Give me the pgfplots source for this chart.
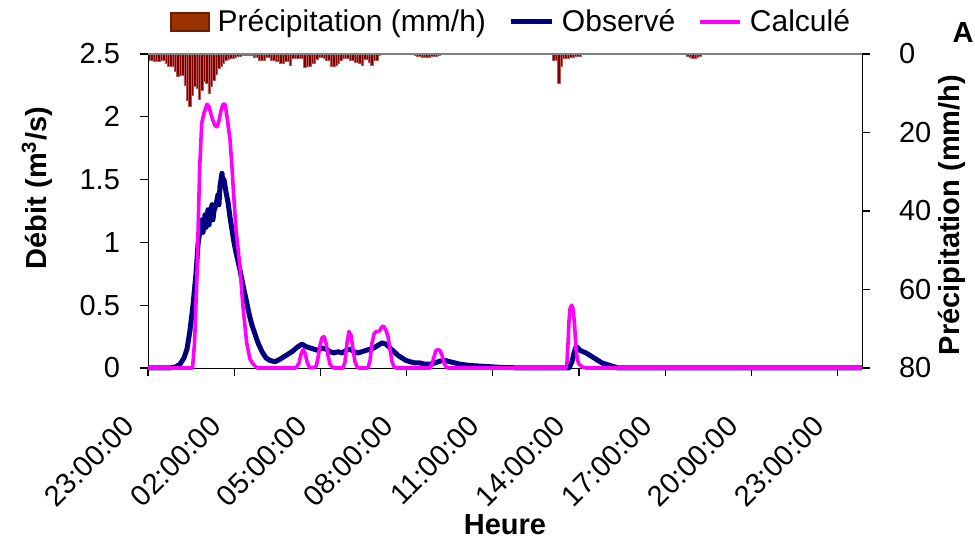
\documentclass[border=0pt]{standalone}
\usepackage{pgfplots}
\pgfplotsset{compat=1.18}
\usepackage{fontspec}
\setmainfont{Liberation Sans}
\definecolor{precip}{RGB}{128,0,0}
\definecolor{precipedge}{RGB}{185,90,90}
\definecolor{precipleg}{RGB}{153,51,0}
\definecolor{precipleged}{RGB}{110,30,0}
\definecolor{obs}{RGB}{0,0,128}
\definecolor{calc}{RGB}{255,0,255}
\begin{document}
\begin{tikzpicture}
\pgfplotsset{every axis/.append style={
  font=\fontsize{14.5}{17}\selectfont,
  scale only axis, width=357pt, height=157pt,
  xmin=0, xmax=24.85,
  /pgf/number format/assume math mode=true,
  axis line style={-, black},
  tick align=outside, major tick length=4pt, tick style={black, line width=0.6pt},
  clip=false}}
% precipitation axis (right, reversed)
\begin{axis}[
  axis x line=none,
  axis y line*=right,
  y dir=reverse,
  ymin=0, ymax=80,
  ytick={0,20,40,60,80},
  yticklabel style={xshift=11pt},
  ylabel={\bfseries Précipitation (mm/h)},
  ylabel style={at={(rel axis cs:1.126,0.487)}, anchor=center},
]
\addplot[ybar, bar width=0.0833, fill=precip, draw=precipedge, line width=0.25pt] coordinates {
(0.042,1.5)(0.125,1.5)(0.208,1.9)(0.292,1.9)(0.375,1.9)(0.458,1.5)(0.542,1.6)(0.625,2.4)(0.708,3.0)(0.792,3.2)
(0.875,3.2)(0.958,4.5)(1.042,5.6)(1.125,5.3)(1.208,5.5)(1.292,7.9)(1.375,11.7)(1.458,13.2)(1.542,10.4)(1.625,8.3)
(1.708,8.7)(1.792,11.5)(1.875,9.2)(1.958,7.0)(2.042,7.5)(2.125,10.0)(2.208,8.3)(2.292,6.6)(2.375,5.1)(2.458,3.6)
(2.542,3.0)(2.625,2.4)(2.708,1.7)(2.792,1.4)(2.875,1.1)(2.958,1.1)(3.042,0.8)(3.125,0.5)(3.208,0.5)(3.292,0.4)
(3.375,0.3)(3.458,0.3)(3.542,0.3)(3.625,0.3)(3.708,0.85)(3.792,0.85)(3.875,1.5)(3.958,1.5)(4.042,1.5)(4.125,0.85)
(4.208,0.85)(4.292,1.5)(4.375,1.5)(4.458,1.8)(4.542,1.8)(4.625,2.4)(4.708,2.4)(4.792,1.8)(4.875,1.8)(4.958,2.8)
(5.042,1.1)(5.125,1.1)(5.208,1.1)(5.292,1.1)(5.375,1.1)(5.458,3.4)(5.542,3.2)(5.625,3.0)(5.708,2.4)(5.792,2.4)
(5.875,1.35)(5.958,0.85)(6.042,0.85)(6.125,1.0)(6.208,1.5)(6.292,1.5)(6.375,3.1)(6.458,3.1)(6.542,2.8)(6.625,2.4)
(6.708,1.6)(6.792,1.1)(6.875,1.1)(6.958,1.1)(7.042,1.5)(7.125,1.5)(7.208,2.2)(7.292,2.2)(7.375,2.4)(7.458,2.8)
(7.542,1.35)(7.625,1.35)(7.708,2.0)(7.792,2.8)(7.875,1.5)(7.958,1.5)(8.042,0.3)
(9.292,0.4)(9.375,0.6)(9.458,0.6)(9.542,0.7)(9.625,0.85)(9.708,0.85)(9.792,0.7)(9.875,0.6)(9.958,0.6)(10.042,0.5)(10.125,0.4)
(14.125,1.5)(14.208,1.5)(14.292,7.4)(14.375,3.0)(14.458,1.1)(14.542,1.1)(14.625,1.1)(14.708,0.85)(14.792,0.85)(14.875,0.6)(14.958,0.6)(15.042,0.6)
(18.792,0.5)(18.875,0.8)(18.958,1.1)(19.042,1.1)(19.125,0.8)(19.208,0.5)
};
\end{axis}
% discharge axis (left)
\begin{axis}[
  axis x line*=bottom,
  axis y line*=left,
  ymin=0, ymax=2.5,
  ytick={0,0.5,1,1.5,2,2.5},
  yticklabels={0,0.5,1,1.5,2,2.5},
  yticklabel style={xshift=-6.5pt},
  xtick={0,3,6,9,12,15,18,21,24},
  xticklabels={23:00:00,02:00:00,05:00:00,08:00:00,11:00:00,14:00:00,17:00:00,20:00:00,23:00:00},
  xticklabel style={xshift=-13pt, yshift=-14pt, rotate=45, anchor=north east},
  xlabel={\bfseries Heure},
  xlabel style={at={(rel axis cs:0.5,-0.5)}, anchor=center},
  ylabel={\bfseries Débit (m\textsuperscript{3}/s)},
  ylabel style={at={(rel axis cs:-0.1555,0.573)}, anchor=center},
  legend style={at={(rel axis cs:0.0308,1.102)}, anchor=west, draw=none, fill=none,
    inner xsep=0pt, legend columns=3, font=\fontsize{15}{18}\selectfont,
    /tikz/every odd column/.append style={column sep=2pt},
    /tikz/every even column/.append style={column sep=9.5pt}},
  legend image code/.code={\draw[#1] (0pt,0pt) -- (20pt,0pt);},
]
\addlegendimage{legend image code/.code={\draw[fill=precipleg, draw=precipleged, line width=0.6pt] (0pt,-4.5pt) rectangle (19pt,4.5pt);}}
\addlegendentry{Précipitation (mm/h)}
\addplot[obs, line width=2.5pt, line join=round] coordinates {
(0,0)(0.766,0)(0.975,0.01)(1.114,0.03)(1.253,0.08)(1.357,0.15)(1.462,0.3)(1.566,0.5)(1.671,0.75)(1.740,0.98)
(1.810,1.1)(1.880,1.18)(1.915,1.08)(1.949,1.14)(1.985,1.22)(2.019,1.12)(2.088,1.26)(2.125,1.14)(2.158,1.22)(2.228,1.3)(2.26,1.18)(2.297,1.25)
(2.367,1.3)(2.436,1.38)(2.47,1.3)(2.506,1.45)(2.576,1.55)(2.61,1.45)(2.645,1.5)(2.715,1.4)(2.785,1.32)(2.854,1.2)(2.924,1.1)
(2.993,1.0)(3.063,0.92)(3.133,0.85)(3.202,0.78)(3.272,0.7)(3.341,0.62)(3.411,0.55)(3.481,0.47)(3.550,0.4)
(3.620,0.34)(3.724,0.27)(3.829,0.2)(3.968,0.13)(4.107,0.08)(4.246,0.06)(4.420,0.05)(4.595,0.07)(4.803,0.1)
(5.012,0.13)(5.221,0.17)(5.360,0.19)(5.500,0.17)(5.639,0.16)(5.778,0.15)(5.917,0.14)(6.056,0.16)(6.196,0.15)
(6.335,0.13)(6.474,0.12)(6.613,0.13)(6.753,0.12)(6.892,0.14)(7.031,0.15)(7.170,0.13)(7.309,0.12)(7.449,0.13)
(7.588,0.14)(7.727,0.15)(7.866,0.16)(8.006,0.18)(8.145,0.2)(8.284,0.19)(8.423,0.16)(8.563,0.13)(8.702,0.1)
(8.841,0.08)(8.980,0.06)(9.119,0.05)(9.293,0.04)(9.468,0.04)(9.642,0.03)(9.816,0.03)(9.990,0.04)(10.164,0.055)
(10.338,0.06)(10.512,0.05)(10.686,0.04)(10.860,0.03)(11.034,0.025)(11.208,0.02)(11.556,0.015)(11.904,0.01)
(12.252,0.005)(12.600,0.003)(12.948,0)(14.654,0)(14.758,0.05)(14.828,0.12)(14.897,0.17)(14.967,0.16)(15.037,0.14)
(15.141,0.13)(15.245,0.12)(15.385,0.1)(15.524,0.08)(15.663,0.06)(15.802,0.04)(15.942,0.03)(16.081,0.02)
(16.220,0.01)(16.359,0)(24.85,0)
};
\addlegendentry{Observé}
\addplot[calc, line width=1.8pt, line join=round] coordinates {
(0,0)(1.55,0)(1.62,0.2)(1.70,0.7)(1.75,1.16)(1.80,1.6)(1.87,1.95)(1.95,2.03)(2.054,2.1)(2.123,2.08)(2.193,2.02)
(2.262,1.97)(2.332,1.93)(2.402,1.92)(2.471,1.97)(2.541,2.05)(2.611,2.1)(2.680,2.1)(2.750,2.0)(2.854,1.82)
(2.924,1.6)(2.97,1.42)(3.063,1.1)(3.2,0.81)(3.3,0.5)(3.435,0.2)(3.55,0.07)(3.665,0.03)(3.8,0)
(5.151,0)(5.256,0.04)(5.325,0.11)(5.395,0.145)(5.465,0.12)(5.534,0.05)(5.604,0.01)(5.674,0)(5.848,0.01)
(5.917,0.08)(5.987,0.18)(6.056,0.24)(6.126,0.25)(6.196,0.2)(6.265,0.1)(6.335,0.03)(6.404,0.01)(6.474,0)
(6.787,0)(6.857,0.05)(6.927,0.2)(6.996,0.29)(7.066,0.26)(7.135,0.15)(7.205,0.05)(7.275,0.01)(7.344,0)
(7.658,0)(7.727,0.06)(7.797,0.2)(7.866,0.27)(7.936,0.29)(8.006,0.29)(8.075,0.3)(8.145,0.33)(8.214,0.33)
(8.284,0.3)(8.354,0.25)(8.423,0.15)(8.493,0.05)(8.563,0.01)(8.632,0)(9.816,0)(9.885,0.03)(9.955,0.09)
(10.024,0.14)(10.094,0.145)(10.164,0.14)(10.233,0.1)(10.303,0.04)(10.372,0.01)(10.442,0)(14.549,0)
(14.584,0.05)(14.619,0.2)(14.654,0.38)(14.689,0.47)(14.741,0.5)(14.793,0.47)(14.845,0.35)(14.897,0.15)
(14.950,0.06)(15.002,0.03)(15.106,0.01)(15.245,0)(24.85,0)
};
\addlegendentry{Calculé}
\draw[gray, line width=0.6pt] (rel axis cs:0,1) -- (rel axis cs:1,1);
\node[font=\fontsize{14.5}{17}\selectfont\bfseries, inner sep=0pt] at (rel axis cs:1.1415,1.067) {A};
\coordinate (bl) at (rel axis cs:0,0);
\coordinate (tr) at (rel axis cs:1,1);
\end{axis}
\path ([shift={(-74pt,-88pt)}]bl) rectangle ([shift={(56.5pt,27pt)}]tr);
\end{tikzpicture}
\end{document}
